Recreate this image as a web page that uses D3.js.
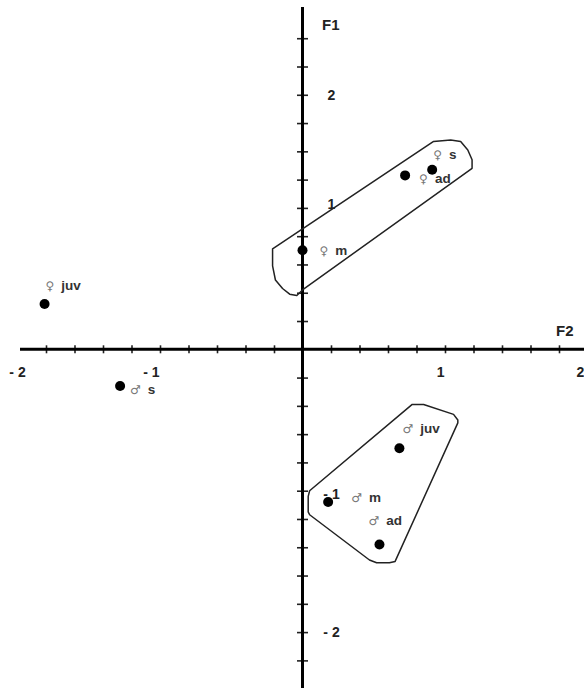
<!DOCTYPE html>
<html>
<head>
<meta charset="utf-8">
<script src="https://cdn.jsdelivr.net/npm/d3@7"></script>
<style>
  body { margin: 0; background: #fff; }
  .tick-label { font-family: "Liberation Sans", Arial, sans-serif; font-weight: bold; font-size: 14px; fill: #222; }
  .axis-name { font-family: "Liberation Sans", Arial, sans-serif; font-weight: bold; font-size: 15px; fill: #222; }
  .sym { font-family: "DejaVu Sans", sans-serif; font-size: 12px; fill: #777; }
  .stage { font-family: "Liberation Sans", Arial, sans-serif; font-weight: bold; font-size: 13.5px; fill: #333; }
</style>
</head>
<body>
<svg id="chart"></svg>
<script>
// Data: groups on the F2 (horizontal) x F1 (vertical) plane
const sexes = ["♀", "♂", "♀", "♀", "♀", "♂", "♂", "♂"];
const stages = ["juv", "s", "m", "ad", "s", "juv", "m", "ad"];
const f2Values = [-1.81, -1.28, 0.00, 0.72, 0.91, 0.68, 0.18, 0.54];
const f1Values = [0.32, -0.26, 0.70, 1.23, 1.27, -0.70, -1.08, -1.38];

// Outlines around the female and male clusters, [F2, F1]
const femaleHull = [
  [-0.21, 0.71], [0.92, 1.47], [1.04, 1.48], [1.11, 1.47], [1.16, 1.41],
  [1.19, 1.34], [1.19, 1.28], [0.00, 0.42], [-0.04, 0.38], [-0.09, 0.39],
  [-0.14, 0.43], [-0.19, 0.49], [-0.21, 0.59], [-0.21, 0.67]
];
const maleHull = [
  [0.05, -1.00], [0.77, -0.39], [0.85, -0.39], [1.06, -0.46], [1.09, -0.50],
  [1.09, -0.52], [0.65, -1.50], [0.61, -1.51], [0.52, -1.51], [0.47, -1.49],
  [0.05, -1.17], [0.04, -1.15], [0.04, -1.04]
];

// Tick labels as they sit on the printed figure
const xTickValues = [-2, -1.06, 0.97, 1.95];
const xTickTexts = ["- 2", "- 1", "1", "2"];
const yTickValues = [1.8, 1.03, -1.02, -2];
const yTickTexts = ["2", "1", "- 1", "- 2"];

const width = 584;
const height = 688;
const originX = 302.5;
const originY = 349.3;
const unitX = 142.5;
const unitY = 141.4;

const svg = d3.select("#chart")
  .attr("width", width)
  .attr("height", height);

const xScale = d3.scaleLinear()
  .domain([-2, 2])
  .range([originX - 2 * unitX, originX + 2 * unitX]);

const yScale = d3.scaleLinear()
  .domain([-2, 2])
  .range([originY + 2 * unitY, originY - 2 * unitY]);

// Horizontal axis (F2): ticks crossing the line
const xAxis = d3.axisBottom(xScale)
  .tickValues(d3.range(-9, 10).filter(i => i !== 0).map(i => i / 5))
  .tickSize(8)
  .tickSizeOuter(0)
  .tickFormat("");
const gx = svg.append("g")
  .attr("transform", `translate(0, ${originY - 4})`)
  .call(xAxis);
gx.select(".domain").remove();
gx.selectAll(".tick line").attr("stroke", "#222").attr("stroke-width", 1.6);

// Vertical axis (F1)
const yAxis = d3.axisRight(yScale)
  .tickValues(d3.range(-11, 12).filter(i => i !== 0).map(i => i / 5))
  .tickSize(11)
  .tickSizeOuter(0)
  .tickFormat("");
const gy = svg.append("g")
  .attr("transform", `translate(${originX - 5.5}, 0)`)
  .call(yAxis);
gy.select(".domain").remove();
gy.selectAll(".tick line").attr("stroke", "#222").attr("stroke-width", 1.6);

// Main axis lines
svg.append("line")
  .attr("x1", 20).attr("x2", width)
  .attr("y1", originY).attr("y2", originY)
  .attr("stroke", "#000").attr("stroke-width", 3);
svg.append("line")
  .attr("x1", originX).attr("x2", originX)
  .attr("y1", 7).attr("y2", height)
  .attr("stroke", "#000").attr("stroke-width", 3);

// Tick labels
svg.selectAll(".x-label")
  .data(xTickValues)
  .join("text")
  .attr("class", "tick-label")
  .attr("text-anchor", "middle")
  .attr("x", d => xScale(d))
  .attr("y", originY + 28)
  .text((d, i) => xTickTexts[i]);

svg.selectAll(".y-label")
  .data(yTickValues)
  .join("text")
  .attr("class", "tick-label")
  .attr("text-anchor", "middle")
  .attr("x", originX + 29)
  .attr("y", d => yScale(d) + 5)
  .text((d, i) => yTickTexts[i]);

// Axis names
svg.append("text").attr("class", "axis-name")
  .attr("x", 322).attr("y", 30).text("F1");
svg.append("text").attr("class", "axis-name")
  .attr("x", 556).attr("y", 336).text("F2");

// Cluster outlines
const hullLine = d3.line()
  .x(d => xScale(d[0]))
  .y(d => yScale(d[1]))
  .curve(d3.curveLinearClosed);

svg.selectAll(".hull")
  .data([femaleHull, maleHull])
  .join("path")
  .attr("d", hullLine)
  .attr("fill", "none")
  .attr("stroke", "#222")
  .attr("stroke-width", 1.5)
  .attr("stroke-linejoin", "round");

// Points
svg.selectAll(".dot")
  .data(f2Values)
  .join("circle")
  .attr("cx", d => xScale(d))
  .attr("cy", (d, i) => yScale(f1Values[i]))
  .attr("r", 5)
  .attr("fill", "#000");

// Point labels: offset from each dot, in pixels
const labelOffsets = [[1, -14], [10, 8], [17, 5], [14, 8], [1, -11], [3, -15], [23, 0], [-11, -19]];

const labels = svg.selectAll(".pt-label")
  .data(f2Values)
  .join("text")
  .attr("x", (d, i) => xScale(d) + labelOffsets[i][0])
  .attr("y", (d, i) => yScale(f1Values[i]) + labelOffsets[i][1]);

labels.append("tspan")
  .attr("class", "sym")
  .text((d, i) => sexes[i]);
labels.append("tspan")
  .attr("class", "stage")
  .attr("dx", (d, i) => sexes[i] === "♂" ? 7 : 7)
  .text((d, i) => stages[i]);
</script>
</body>
</html>
